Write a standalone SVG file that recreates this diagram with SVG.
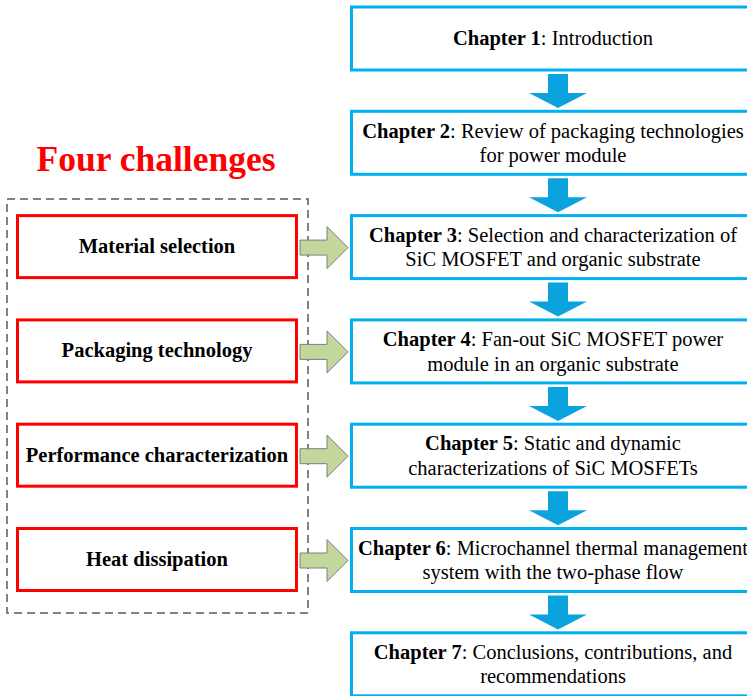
<svg xmlns="http://www.w3.org/2000/svg" width="747" height="696" viewBox="0 0 747 696">
  <defs>
    <style>
      .chap { fill: #ffffff; stroke: #00B0F0; stroke-width: 3; }
      .chal { fill: #ffffff; stroke: #FF0000; stroke-width: 3; }
      .group { fill: none; stroke: #595959; stroke-width: 1.5; stroke-dasharray: 8 5; }
      .down { fill: #0BA3DE; }
      .right { fill: #C3D69B; stroke: #7F7F7F; stroke-width: 1; }
      text { font-size: 20.5px; fill: #000000; text-anchor: middle; }
      .b { font-weight: bold; }
      .title { font-size: 35.5px; font-weight: bold; fill: #FF0000; }
    </style>
    <!-- down arrow between chapters, origin at bottom edge of upper box -->
    <path id="downArrow" class="down" d="M -10 4 H 10 V 23 H 29 L 0 38 L -29 23 H -10 Z"/>
    <!-- right arrow from a challenge to its chapter, origin at row centre -->
    <path id="rightArrow" class="right" d="M 300 -7.5 H 327 V -21 L 348 0 L 327 21 V 7.5 H 300 Z"/>
  </defs>

  <g font-family="Liberation Serif, Times New Roman, serif">
    <!-- heading -->
    <text class="title" x="156" y="171">Four challenges</text>

    <!-- dashed frame around the challenges -->
    <rect class="group" x="7" y="199" width="301" height="414"/>

    <!-- connectors -->
    <g id="connectors">
      <use href="#downArrow" x="558" y="70"/>
      <use href="#downArrow" x="558" y="174.3"/>
      <use href="#downArrow" x="558" y="278.6"/>
      <use href="#downArrow" x="558" y="382.9"/>
      <use href="#downArrow" x="558" y="487.2"/>
      <use href="#downArrow" x="558" y="591.5"/>
      <use href="#rightArrow" x="0" y="247.6"/>
      <use href="#rightArrow" x="0" y="351.9"/>
      <use href="#rightArrow" x="0" y="456.2"/>
      <use href="#rightArrow" x="0" y="560.5"/>
    </g>

    <!-- chapters -->
    <g id="chapter1">
      <rect class="chap" x="351.5" y="7" width="405" height="63"/>
      <text x="553" y="45"><tspan class="b">Chapter 1</tspan>: Introduction</text>
    </g>
    <g id="chapter2">
      <rect class="chap" x="351.5" y="111.3" width="405" height="63"/>
      <text x="553" y="137.5"><tspan class="b">Chapter 2</tspan>: Review of packaging technologies</text>
      <text x="553" y="162">for power module</text>
    </g>
    <g id="chapter3">
      <rect class="chap" x="351.5" y="215.6" width="405" height="63"/>
      <text x="553" y="241.8"><tspan class="b">Chapter 3</tspan>: Selection and characterization of</text>
      <text x="553" y="266.3">SiC MOSFET and organic substrate</text>
    </g>
    <g id="chapter4">
      <rect class="chap" x="351.5" y="319.9" width="405" height="63"/>
      <text x="553" y="346.1"><tspan class="b">Chapter 4</tspan>: Fan-out SiC MOSFET power</text>
      <text x="553" y="370.6">module in an organic substrate</text>
    </g>
    <g id="chapter5">
      <rect class="chap" x="351.5" y="424.2" width="405" height="63"/>
      <text x="553" y="450.4"><tspan class="b">Chapter 5</tspan>: Static and dynamic</text>
      <text x="553" y="474.9">characterizations of SiC MOSFETs</text>
    </g>
    <g id="chapter6">
      <rect class="chap" x="351.5" y="528.5" width="405" height="63"/>
      <text x="553" y="554.7"><tspan class="b">Chapter 6</tspan>: Microchannel thermal management</text>
      <text x="553" y="579.2">system with the two-phase flow</text>
    </g>
    <g id="chapter7">
      <rect class="chap" x="351.5" y="632.8" width="405" height="63"/>
      <text x="553" y="658.5"><tspan class="b">Chapter 7</tspan>: Conclusions, contributions, and</text>
      <text x="553" y="683">recommendations</text>
    </g>

    <!-- challenges -->
    <g id="material">
      <rect class="chal" x="17.5" y="215.6" width="279" height="62"/>
      <text class="b" x="157" y="253">Material selection</text>
    </g>
    <g id="packaging">
      <rect class="chal" x="17.5" y="319.9" width="279" height="62"/>
      <text class="b" x="157" y="357.3">Packaging technology</text>
    </g>
    <g id="performance">
      <rect class="chal" x="17.5" y="424.2" width="279" height="62"/>
      <text class="b" x="157" y="461.6">Performance characterization</text>
    </g>
    <g id="heat">
      <rect class="chal" x="17.5" y="528.5" width="279" height="62"/>
      <text class="b" x="157" y="565.9">Heat dissipation</text>
    </g>
  </g>
</svg>
